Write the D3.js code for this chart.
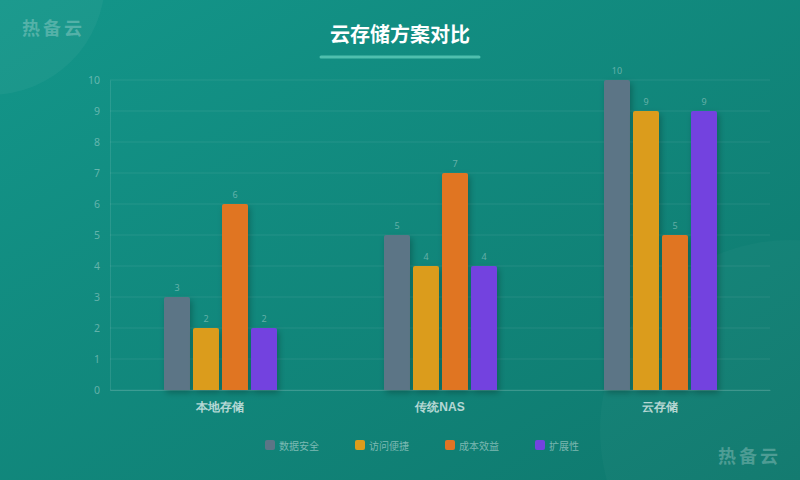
<!DOCTYPE html>
<html><head><meta charset="utf-8">
<script src="https://cdn.jsdelivr.net/npm/d3@7"></script>
<style>
html,body{margin:0;padding:0;overflow:hidden;}
svg{display:block;font-family:"Noto Sans CJK SC","Noto Sans",sans-serif;}
</style></head>
<body>
<svg id="chart" width="800" height="480"></svg>
<script>
const categories = ["本地存储", "传统NAS", "云存储"];
const seriesNames = ["数据安全", "访问便捷", "成本效益", "扩展性"];
const seriesColors = ["#5b7586", "#db9c1b", "#e07424", "#7343df"];
const dataSecurity = [3, 5, 10];
const accessEase = [2, 4, 9];
const costBenefit = [6, 7, 5];
const scalability = [2, 4, 9];
const yTicks = [0,1,2,3,4,5,6,7,8,9,10];
const seriesValues = [dataSecurity, accessEase, costBenefit, scalability];

const W = 800, H = 480;
const margin = {left:110, right:30, top:80, bottom:90};
const svg = d3.select("#chart");
const defs = svg.append("defs");

const bg = defs.append("linearGradient").attr("id","bg").attr("x1","0").attr("y1","0").attr("x2","1").attr("y2","1");
bg.append("stop").attr("offset","0%").attr("stop-color","#13968a");
bg.append("stop").attr("offset","100%").attr("stop-color","#0f786d");

const sh = defs.append("filter").attr("id","shadow").attr("x","-30%").attr("y","-10%").attr("width","160%").attr("height","130%");
sh.append("feDropShadow").attr("dx",2).attr("dy",3).attr("stdDeviation",3).attr("flood-color","#000").attr("flood-opacity",0.25);

svg.append("rect").attr("width",W).attr("height",H).attr("fill","url(#bg)");
svg.append("circle").attr("cx",-10).attr("cy",-20).attr("r",115).attr("fill","rgba(255,255,255,0.04)");
svg.append("circle").attr("cx",790).attr("cy",430).attr("r",190).attr("fill","rgba(255,255,255,0.025)");

// title
svg.append("text").attr("x",400).attr("y",42).attr("text-anchor","middle")
  .attr("fill","#ffffff").attr("font-size",20).attr("font-weight","bold").text("云存储方案对比");
svg.append("line").attr("x1",321).attr("x2",479).attr("y1",57).attr("y2",57)
  .attr("stroke","#4fbfae").attr("stroke-width",3).attr("stroke-linecap","round");

// watermarks
svg.append("text").attr("x",22).attr("y",35).attr("font-size",18).attr("font-weight","bold")
  .attr("letter-spacing",3).attr("fill","rgba(255,255,255,0.25)").text("热备云");
svg.append("text").attr("x",718).attr("y",463).attr("font-size",18).attr("font-weight","bold")
  .attr("letter-spacing",3).attr("fill","rgba(255,255,255,0.25)").text("热备云");

const x0 = d3.scaleBand().domain(categories).range([margin.left, W-margin.right]);
const y = d3.scaleLinear().domain([0,10]).range([H-margin.bottom, margin.top]);
const barW = 26, step = 29;
const x1 = d3.scaleBand().domain(seriesNames).range([-2*step+2, 2*step+2]).paddingInner(0);

// grid
const g = svg.append("g");
g.selectAll("line.grid").data(yTicks).enter().append("line")
  .attr("x1",margin.left).attr("x2",W-margin.right)
  .attr("y1",d=>y(d)).attr("y2",d=>y(d))
  .attr("stroke","rgba(255,255,255,0.08)").attr("stroke-width",1);

// y axis
const yAxis = d3.axisLeft(y).tickValues(yTicks).tickSize(0).tickPadding(10);
const ya = svg.append("g").attr("transform",`translate(${margin.left},0)`).call(yAxis);
ya.select(".domain").attr("stroke","rgba(255,255,255,0.1)");
ya.selectAll("text").attr("fill","rgba(255,255,255,0.35)").attr("font-size",10.5).attr("font-family","'Noto Sans',sans-serif");

// x axis
const xAxis = d3.axisBottom(x0).tickSize(0).tickPadding(12);
const xa = svg.append("g").attr("transform",`translate(0,${H-margin.bottom})`).call(xAxis);
xa.select(".domain").attr("stroke","rgba(255,255,255,0.15)");
xa.selectAll("text").attr("fill","rgba(255,255,255,0.7)").attr("font-size",12).attr("font-weight","bold");

// bars
const r = 2;
function barPath(x, yTop, w, h){
  return `M${x},${yTop+h}V${yTop+r}Q${x},${yTop} ${x+r},${yTop}H${x+w-r}Q${x+w},${yTop} ${x+w},${yTop+r}V${yTop+h}Z`;
}
categories.forEach((c,ci)=>{
  const cx = x0(c) + x0.bandwidth()/2;
  seriesNames.forEach((s,si)=>{
    const v = seriesValues[si][ci];
    const bx = cx + x1(s);
    const yt = y(v);
    svg.append("path").attr("d",barPath(bx, yt, barW, y(0)-yt))
      .attr("fill",seriesColors[si]).attr("filter","url(#shadow)");
    svg.append("text").attr("x",bx+barW/2).attr("y",yt-6).attr("text-anchor","middle")
      .attr("font-size",9).attr("fill","rgba(255,255,255,0.35)").attr("font-family","'Noto Sans',sans-serif").text(v);
  });
});

// legend
const lg = svg.append("g");
seriesNames.forEach((s,i)=>{
  const lx = 265 + i*90;
  lg.append("rect").attr("x",lx).attr("y",440).attr("width",10).attr("height",10).attr("rx",2)
    .attr("fill",seriesColors[i]);
  lg.append("text").attr("x",lx+14).attr("y",450).attr("font-size",10)
    .attr("fill","rgba(255,255,255,0.45)").text(s);
});
</script>
</body></html>
